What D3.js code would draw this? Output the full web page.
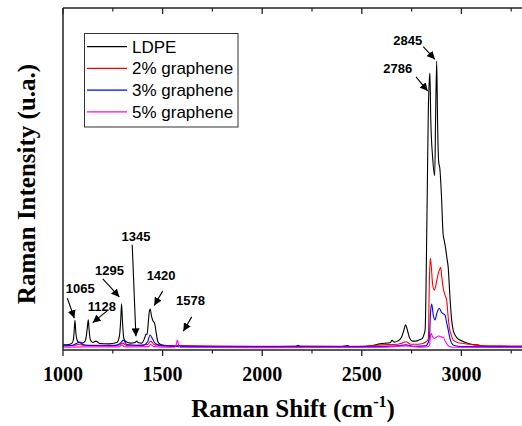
<!DOCTYPE html>
<html><head><meta charset="utf-8">
<script src="https://cdn.jsdelivr.net/npm/d3@7"></script>
<style>
html,body{margin:0;padding:0;background:#fff;}
svg{display:block;}
</style></head>
<body>
<script>
// ---- DATA (wavenumber cm^-1, intensity a.u.) ----
const seriesNames = ["LDPE", "2% graphene", "3% graphene", "5% graphene"];
const seriesColors = ["#000000", "#ff0000", "#0000ff", "#ff00ff"];

const ldpe = [
  [1000,1.5],[1030,1.6],[1045,2.0],[1052,3.0],[1056,5.5],[1060,8.7],[1064,5.5],[1070,3.0],[1080,2.2],[1095,2.0],
  [1110,2.5],[1118,4.5],[1123,7.0],[1127,8.8],[1131,6.0],[1137,3.0],[1150,2.2],[1165,2.6],[1172,2.4],[1185,1.9],
  [1230,1.8],[1270,2.2],[1283,4.0],[1290,9.0],[1294,13.5],[1298,9.0],[1305,3.5],[1315,2.5],[1340,2.0],[1362,2.2],
  [1370,2.6],[1378,2.1],[1395,2.0],[1410,3.5],[1417,4.7],[1422,4.5],[1428,8.0],[1434,11.5],[1438,12.0],[1444,10.0],
  [1452,8.5],[1460,7.8],[1468,5.0],[1476,2.5],[1490,1.6],[1520,1.3],[1600,1.2],[1800,1.0],[2000,1.0],[2170,1.1],
  [2180,1.4],[2190,1.1],[2400,1.0],[2430,1.3],[2440,1.0],[2520,1.1],[2560,1.4],[2590,1.8],[2620,2.0],[2642,2.1],
  [2652,2.8],[2662,2.3],[2680,2.6],[2700,3.8],[2712,6.0],[2720,7.4],[2728,6.0],[2740,3.5],[2755,2.6],[2770,2.6],
  [2790,3.0],[2805,3.5],[2812,4.5],[2818,6.0],[2824,25],[2829,48],[2834,70],[2839,79],[2842,81],[2846,68],
  [2856,56],[2866,51],[2871,70],[2876,84.5],[2880,68],[2886,55],[2892,53],[2900,45],[2908,34],[2914,32],
  [2920,30],[2927,27],[2934,24],[2942,16],[2951,8.8],[2960,5.5],[2968,4.4],[2980,3.4],[2993,2.9],[3020,2.2],
  [3050,1.7],[3077,1.5],[3120,1.1],[3200,0.9],[3400,0.8]
];
const g2 = [
  [1000,1.3],[1060,1.4],[1080,1.7],[1100,1.4],[1280,1.4],[1300,2.0],[1320,1.3],[1425,1.6],[1440,2.6],[1460,1.5],
  [1600,1.2],[2000,1.1],[2500,1.1],[2600,1.5],[2680,1.7],[2700,2.0],[2722,2.4],[2745,1.7],[2780,1.7],[2810,2.0],
  [2825,2.5],[2834,3.2],[2839,20],[2844,26.8],[2848,25],[2856,19],[2864,17.5],[2872,19],[2882,22],[2890,23.5],
  [2896,24.2],[2902,21],[2909,18],[2918,16],[2926,14.6],[2933,10],[2939,6.7],[2950,4.2],[2959,2.9],[2980,2.2],
  [3010,1.9],[3050,1.6],[3100,1.3],[3200,1.2],[3400,1.1]
];
const g3 = [
  [1000,1.2],[1050,1.4],[1070,2.0],[1085,2.3],[1100,1.6],[1130,1.3],[1250,1.2],[1285,1.8],[1303,2.9],[1320,1.6],
  [1400,1.3],[1425,2.4],[1437,4.4],[1450,3.2],[1465,1.8],[1500,1.2],[1600,1.0],[2000,0.9],[2500,0.9],[2680,1.2],
  [2720,1.5],[2760,1.1],[2820,1.2],[2835,2.5],[2840,3.8],[2845,11],[2851,13.4],[2858,10.5],[2867,8.8],[2878,11],
  [2889,12.2],[2900,11],[2918,10.2],[2926,8],[2934,5.8],[2942,3.5],[2951,2.0],[2965,1.3],[3000,1.0],[3400,0.9]
];
const g5 = [
  [1000,0.8],[1100,0.9],[1280,0.9],[1295,1.5],[1310,0.9],[1430,1.0],[1440,1.6],[1455,1.0],[1560,0.8],[1568,1.6],
  [1574,2.9],[1580,1.5],[1590,0.8],[2000,0.7],[2600,0.8],[2720,1.2],[2800,0.8],[2835,1.0],[2840,1.5],[2847,4.9],
  [2856,3.8],[2864,3.4],[2875,3.8],[2884,4.1],[2895,3.9],[2909,3.7],[2920,2.4],[2935,1.2],[2960,0.8],[3400,0.7]
];
const seriesData = [ldpe, g2, g3, g5];

const xMajorTicks = [1000, 1500, 2000, 2500, 3000];
const xMinorTicks = [1250, 1750, 2250, 2750, 3250];

// annotations: label, tip (wavenumber, intensity)
const annLabels = ["2845", "2786", "1065", "1128", "1295", "1345", "1420", "1578"];
const annTips = [[2867,85.0],[2831,75.7],[1057,9.3],[1149,8.0],[1283,15.5],[1366,4.0],[1458,13.0],[1604,5.5]];
const annFrom = [[-11.7,-12.6],[-11.7,-14.3],[-7,-20],[15.6,-12.7],[-16.6,-18],[-3.7,-91.6],[8.4,-14.4],[8.4,-14.3]];
const annText = [[-41.7,-14.3],[-44.4,-18.3],[-8.6,-25.3],[-5,-11.4],[-24.3,-22.3],[-14.3,-95],[-7.6,-26],[-7.3,-26]];

// ---- CHART ----
const W = 522, H = 426;
const m = {left:63, top:8, bottom:350};
const x = d3.scaleLinear().domain([1000, 3400]).range([m.left, m.left + 2400*0.1992]);
const y = d3.scaleLinear().domain([0, 100]).range([m.bottom, m.top]);

const svg = d3.select("body").append("svg").attr("width", W).attr("height", H);

svg.append("defs").append("clipPath").attr("id","clip")
  .append("rect").attr("x", m.left).attr("y", m.top).attr("width", W - m.left).attr("height", m.bottom - m.top);

svg.select("defs").append("marker").attr("id","arr")
  .attr("viewBox","0 0 10 10").attr("refX",10).attr("refY",5)
  .attr("markerWidth",8).attr("markerHeight",8).attr("markerUnits","userSpaceOnUse")
  .attr("orient","auto")
  .append("path").attr("d","M0,0 L10,5 L0,10 Z").attr("fill","#000");

const line = d3.line().x(d => x(d[0])).y(d => y(d[1])).curve(d3.curveMonotoneX);

const gl = svg.append("g").attr("clip-path","url(#clip)");
// draw back to front: LDPE first, then red, blue, magenta
seriesData.forEach((s, i) => {
  gl.append("path").datum(s).attr("d", line)
    .attr("fill","none").attr("stroke", seriesColors[i]).attr("stroke-width", 1.1)
    .attr("stroke-linejoin","round");
});

// frame & axes
const axisCol = "#222";
svg.append("line").attr("x1", m.left).attr("x2", W).attr("y1", m.top).attr("y2", m.top)
  .attr("stroke", axisCol).attr("stroke-width", 1.5);
svg.append("line").attr("x1", m.left).attr("x2", W).attr("y1", m.bottom).attr("y2", m.bottom)
  .attr("stroke", axisCol).attr("stroke-width", 1.5);
svg.append("line").attr("x1", m.left).attr("x2", m.left).attr("y1", m.top).attr("y2", m.bottom)
  .attr("stroke", axisCol).attr("stroke-width", 1.5);

const ticks = svg.append("g");
xMajorTicks.forEach(t => {
  ticks.append("line").attr("x1", x(t)).attr("x2", x(t)).attr("y1", m.bottom).attr("y2", m.bottom + 6)
    .attr("stroke", axisCol).attr("stroke-width", 1.3);
  ticks.append("line").attr("x1", x(t)).attr("x2", x(t)).attr("y1", m.top).attr("y2", m.top + 6)
    .attr("stroke", axisCol).attr("stroke-width", 1.3);
  ticks.append("text").attr("x", x(t)).attr("y", 381).attr("text-anchor","middle")
    .attr("font-family","'Liberation Serif','Times New Roman',serif").attr("font-weight","bold")
    .attr("font-size", 20).attr("fill","#000").text(t);
});
xMinorTicks.forEach(t => {
  ticks.append("line").attr("x1", x(t)).attr("x2", x(t)).attr("y1", m.bottom).attr("y2", m.bottom + 3.5)
    .attr("stroke", axisCol).attr("stroke-width", 1.2);
  ticks.append("line").attr("x1", x(t)).attr("x2", x(t)).attr("y1", m.top).attr("y2", m.top + 3.5)
    .attr("stroke", axisCol).attr("stroke-width", 1.2);
});

// axis titles
const xt = svg.append("text").attr("x", 293).attr("y", 417).attr("text-anchor","middle")
  .attr("font-family","'Liberation Serif','Times New Roman',serif").attr("font-weight","bold")
  .attr("font-size", 25).attr("fill","#000");
xt.append("tspan").text("Raman Shift (cm");
xt.append("tspan").attr("font-size", 16).attr("dy", -10).text("-1");
xt.append("tspan").attr("dy", 10).text(")");

svg.append("text").attr("transform","translate(35,184) rotate(-90)").attr("text-anchor","middle")
  .attr("font-family","'Liberation Serif','Times New Roman',serif").attr("font-weight","bold")
  .attr("font-size", 25).attr("fill","#000").text("Raman Intensity (u.a.)");

// legend
const lg = svg.append("g");
lg.append("rect").attr("x", 84.5).attr("y", 33.5).attr("width", 153.5).attr("height", 93.5)
  .attr("fill","#fff").attr("stroke","#333").attr("stroke-width", 1);
seriesNames.forEach((n, i) => {
  const yy = 46.7 + i*21.7;
  lg.append("line").attr("x1", 87).attr("x2", 127).attr("y1", yy).attr("y2", yy)
    .attr("stroke", seriesColors[i]).attr("stroke-width", 1.2);
  lg.append("text").attr("x", 132).attr("y", yy).attr("dy","0.35em")
    .attr("font-family","'Liberation Sans',Arial,sans-serif").attr("font-size", 17)
    .attr("fill","#000").text(n);
});

// annotations
const ag = svg.append("g");
annLabels.forEach((lab, i) => {
  const tx = x(annTips[i][0]), ty = y(annTips[i][1]);
  ag.append("line").attr("x1", tx + annFrom[i][0]).attr("y1", ty + annFrom[i][1])
    .attr("x2", tx).attr("y2", ty).attr("stroke","#000").attr("stroke-width", 1.1)
    .attr("marker-end","url(#arr)");
  ag.append("text").attr("x", tx + annText[i][0]).attr("y", ty + annText[i][1])
    .attr("font-family","'Liberation Sans',Arial,sans-serif").attr("font-weight","bold")
    .attr("font-size", 13).attr("fill","#000").text(lab);
});
</script>
</body></html>
